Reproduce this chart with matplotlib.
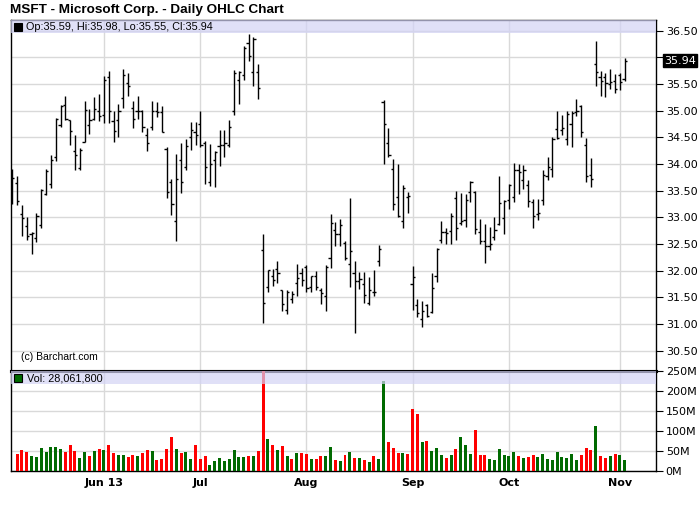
import matplotlib
matplotlib.use("Agg")
import matplotlib.pyplot as plt
import matplotlib.transforms as mtransforms
from matplotlib.patches import Rectangle
import numpy as np

# daily OHLC, one entry per trading day (May 6 .. Nov 4)
opens = [33.44, 33.65, 33.07, 32.84, 32.68, 32.62, 32.86, 33.44, 33.63, 34.13,
         34.74, 35.10, 34.82, 34.24, 33.92, 34.42, 34.74, 34.85, 35.00, 34.92,
         35.63, 34.80, 34.83, 35.24, 35.51, 35.05, 35.00, 35.00, 34.55, 34.69,
         34.99, 34.97, 34.29, 33.66, 32.94, 34.08, 33.95, 34.50, 34.60, 34.75,
         34.40, 33.66, 34.08, 34.33, 34.35, 34.35, 35.00, 35.57, 35.66, 36.27,
         35.72, 35.72, 32.39, 31.69, 31.91, 32.03, 31.63, 31.27, 31.47, 31.77,
         31.95, 32.07, 31.69, 31.91, 31.64, 31.52, 32.24, 32.77, 32.69, 32.52,
         32.13, 31.96, 31.80, 31.76, 31.39, 31.61, 32.19, 35.17, 34.39, 33.90,
         33.38, 32.94, 33.38, 31.75, 31.35, 31.10, 31.35, 31.23, 31.91, 32.57,
         32.73, 32.75, 33.37, 32.90, 32.95, 33.47, 33.47, 32.73, 32.55, 32.47,
         32.63, 32.88, 32.98, 33.32, 33.38, 33.88, 33.70, 33.60, 33.28, 33.07,
         33.32, 33.77, 33.91, 34.66, 34.63, 34.47, 34.75, 34.98, 35.08, 34.35,
         33.79, 35.88, 35.63, 35.64, 35.50, 35.55, 35.66, 35.59]
highs = [33.91, 33.78, 33.24, 33.00, 32.72, 33.08, 33.53, 33.90, 34.16, 34.87,
         35.10, 35.27, 34.83, 34.55, 34.30, 35.19, 35.04, 35.25, 35.32, 35.65,
         35.74, 34.99, 35.12, 35.79, 35.71, 35.18, 35.27, 35.02, 34.67, 35.18,
         35.17, 35.08, 34.32, 33.72, 34.19, 34.39, 34.47, 34.79, 34.79, 34.99,
         34.44, 34.38, 34.25, 34.63, 34.63, 34.82, 35.77, 35.74, 36.22, 36.43,
         36.38, 35.88, 32.68, 32.02, 32.03, 32.19, 31.64, 31.63, 31.62, 32.12,
         32.05, 32.10, 31.91, 32.00, 31.67, 32.10, 33.06, 32.91, 32.97, 32.55,
         33.37, 32.19, 31.98, 31.97, 31.88, 32.02, 32.49, 35.20, 34.67, 34.10,
         34.00, 33.60, 33.47, 32.08, 31.47, 31.44, 31.38, 31.95, 32.42, 32.94,
         32.80, 33.08, 33.50, 33.45, 33.43, 33.69, 33.49, 32.97, 32.88, 32.82,
         33.00, 33.77, 33.32, 33.62, 34.02, 34.00, 33.99, 33.70, 33.34, 33.34,
         33.89, 34.14, 34.50, 34.99, 34.91, 34.99, 34.99, 35.21, 35.10, 34.49,
         34.12, 36.30, 35.74, 35.70, 35.79, 35.69, 35.70, 35.98]
lows = [33.25, 33.23, 32.65, 32.58, 32.32, 32.53, 32.80, 33.42, 33.55, 34.05,
        34.69, 34.83, 34.35, 33.88, 33.89, 34.42, 34.57, 34.82, 34.80, 34.77,
        34.77, 34.42, 34.51, 35.05, 35.27, 34.67, 34.85, 34.60, 34.24, 34.63,
        34.89, 34.60, 33.36, 33.04, 32.55, 33.45, 33.88, 34.26, 34.35, 34.32,
        33.63, 33.58, 33.57, 33.97, 34.13, 34.32, 34.91, 35.13, 35.57, 35.94,
        35.47, 35.21, 31.02, 31.60, 31.71, 31.77, 31.24, 31.18, 31.39, 31.53,
        31.71, 31.60, 31.60, 31.64, 31.37, 31.24, 32.05, 32.46, 32.46, 32.20,
        31.69, 30.83, 31.66, 31.39, 31.35, 31.52, 32.08, 34.00, 34.14, 33.14,
        33.00, 32.80, 33.08, 31.27, 31.13, 30.95, 31.14, 31.20, 31.78, 32.52,
        32.50, 32.50, 32.57, 32.85, 32.82, 33.29, 32.69, 32.50, 32.14, 32.38,
        32.58, 32.85, 32.69, 33.16, 33.29, 33.43, 33.54, 33.19, 32.80, 32.95,
        33.24, 33.70, 33.75, 34.47, 34.54, 34.35, 34.32, 34.90, 34.50, 33.66,
        33.57, 35.46, 35.27, 35.25, 35.41, 35.33, 35.38, 35.55]
closes = [33.74, 33.31, 32.99, 32.65, 32.70, 33.03, 33.52, 33.86, 34.08, 34.85,
          35.08, 34.85, 34.61, 34.16, 34.27, 35.02, 34.83, 35.04, 34.90, 35.58,
          34.99, 34.61, 34.99, 35.67, 35.47, 34.84, 34.99, 34.70, 34.39, 34.99,
          34.97, 34.60, 33.47, 33.25, 33.72, 33.66, 34.33, 34.63, 34.54, 34.36,
          33.94, 34.00, 34.22, 34.35, 34.40, 34.70, 35.70, 35.72, 36.17, 36.03,
          36.35, 35.42, 31.39, 32.02, 31.82, 31.96, 31.38, 31.60, 31.56, 31.86,
          31.83, 31.67, 31.90, 31.70, 31.58, 32.07, 32.89, 32.69, 32.86, 32.23,
          32.37, 31.80, 31.84, 31.54, 31.63, 31.60, 32.40, 34.75, 34.16, 33.26,
          33.02, 33.55, 33.40, 31.89, 31.20, 31.24, 31.16, 31.67, 32.40, 32.73,
          32.70, 33.03, 32.80, 32.94, 33.32, 33.66, 32.78, 32.55, 32.47, 32.50,
          32.77, 33.27, 33.30, 33.60, 33.88, 33.85, 33.88, 33.30, 33.02, 33.08,
          33.79, 33.94, 34.47, 34.49, 34.68, 34.94, 34.96, 34.99, 34.60, 33.77,
          33.72, 35.72, 35.55, 35.52, 35.54, 35.41, 35.53, 35.94]
# volume in millions of shares (first day not shown on the chart)
volume = [np.nan, 42.5, 52.5, 47.5, 37.5, 35, 57.5, 47.5, 60, 60,
          55, 47.5, 65, 50, 32.5, 47.5, 37.5, 50, 55, 52.5,
          65, 45, 39, 40, 35, 40, 37.5, 45, 52.5, 50,
          27.5, 30, 55, 85, 55, 45, 47.5, 30, 65, 30,
          37.5, 15, 25, 32.5, 25, 30, 52.5, 35, 35, 37.5,
          37.5, 50, 249, 80, 65, 52.5, 62.5, 37.5, 30, 45,
          45, 42.5, 30, 30, 37.5, 37.5, 60, 27.5, 25, 40,
          47.5, 32.5, 32.5, 27.5, 22.5, 37.5, 30, 225, 72.5, 57.5,
          45, 45, 42.5, 155, 142.5, 72.5, 75, 50, 57.5, 40,
          32.5, 40, 55, 85, 65, 42.5, 102.5, 40, 40, 30,
          27.5, 55, 40, 37.5, 47.5, 37.5, 32.5, 35, 40, 35,
          42.5, 30, 27.5, 47.5, 35, 32.5, 42.5, 27.5, 40, 57.5,
          52.5, 112.5, 37.5, 32.5, 37.5, 42.5, 40, 28.0618]

month_pos = [19, 39, 61, 83, 103, 126]
month_labels = ["Jun 13", "Jul", "Aug", "Sep", "Oct", "Nov"]
price_ticks = [30.5, 31.0, 31.5, 32.0, 32.5, 33.0, 33.5, 34.0, 34.5, 35.0, 35.5, 36.0, 36.5]
vol_ticks = [0, 50, 100, 150, 200, 250]

x = np.arange(len(closes))
prev = np.r_[np.nan, closes[:-1]]
up = np.array(closes) >= prev
green = "#006a00"
vol_colors = np.where(up, green, "#ff0000")

W, H = 700, 512
fig = plt.figure(figsize=(W / 100, H / 100), dpi=100)
grid_c = "#d9d9d9"
band_c = "#d3d3f5"

ax = fig.add_axes([11 / W, (H - 371) / H, 645 / W, 351 / H])
axv = fig.add_axes([11 / W, (H - 471) / H, 645 / W, 100 / H], sharex=ax)

# price bars
ax.vlines(x, lows, highs, color="black", lw=1.0, zorder=3)
ax.hlines(opens, x - 0.45, x, color="black", lw=1.0, zorder=3)
ax.hlines(closes, x, x + 0.45, color="black", lw=1.0, zorder=3)
ax.set_ylim(30.12, 36.70)
ax.set_xlim(-0.27, 133.5)
ax.set_yticks(price_ticks)
# the last-close box sits over the label nearest to it
last = closes[-1]
ax.set_yticklabels(["" if abs(p - last) < 0.15 else "%.2f" % p for p in price_ticks])
ax.axhspan(36.46, 36.70, color=band_c, alpha=0.7, lw=0, zorder=4)

# volume bars
axv.bar(x, volume, width=0.62, color=vol_colors, zorder=3)
axv.set_ylim(0, 250)
axv.set_yticks(vol_ticks)
axv.set_yticklabels(["%dM" % v for v in vol_ticks])
axv.axhspan(217.5, 250, color=band_c, alpha=0.7, lw=0, zorder=4)

for a in (ax, axv):
    a.grid(True, color=grid_c, lw=1.0, zorder=0)
    a.set_axisbelow(True)
    a.yaxis.tick_right()
    a.tick_params(axis="y", direction="out", length=5, width=0.8, pad=2,
                  labelsize=8, colors="black")
    for lab in a.get_yticklabels():
        lab.set_family("DejaVu Sans")
    for s in a.spines.values():
        s.set_color("black")
        s.set_linewidth(1.0)
ax.spines["bottom"].set_linewidth(2.2)
axv.spines["top"].set_linewidth(2.2)

axv.set_xticks(month_pos)
axv.set_xticklabels(month_labels, fontsize=8, fontweight="bold", family="DejaVu Sans")
axv.tick_params(axis="x", length=0, pad=5)
ax.tick_params(axis="x", length=0, labelbottom=False)

# last close marker on the price scale
trans = mtransforms.blended_transform_factory(ax.transAxes, ax.transData)
ax.text(1.012, last, "%.2f" % last, transform=trans, va="center", ha="left",
        fontsize=8, family="DejaVu Sans", color="white",
        bbox=dict(boxstyle="square,pad=0.1", fc="black", ec="black"), zorder=6, clip_on=False)

# header lines with small legend squares (pixel positions)
def px_box(x0, y0, size, fc):
    fig.add_artist(Rectangle((x0 / W, 1 - (y0 + size) / H), size / W, size / H,
                             transform=fig.transFigure, fc=fc, ec="black", lw=0.8, zorder=7))

px_box(14, 23, 8, "black")
px_box(14, 374, 8, green)
legend_txt = "Op:%.2f, Hi:%.2f, Lo:%.2f, Cl:%.2f" % (opens[-1], highs[-1], lows[-1], last)
fig.text(26 / W, 1 - 27 / H, legend_txt, va="center", ha="left", fontsize=7.8,
         family="Liberation Sans", zorder=7)
fig.text(27 / W, 1 - 378.5 / H, "Vol: {:,}".format(int(round(volume[-1] * 1e6, -2))),
         va="center", ha="left", fontsize=7.8, family="Liberation Sans", zorder=7)
ax.text(0.016, 0.04, "(c) Barchart.com", transform=ax.transAxes, va="center", ha="left",
        fontsize=7.5, family="Liberation Sans", zorder=6)

fig.text(10 / W, 1 - 10 / H, "MSFT - Microsoft Corp. - Daily OHLC Chart", va="center",
         ha="left", fontsize=9.7, fontweight="bold", family="Liberation Sans")

fig.savefig("out.png", dpi=100)
